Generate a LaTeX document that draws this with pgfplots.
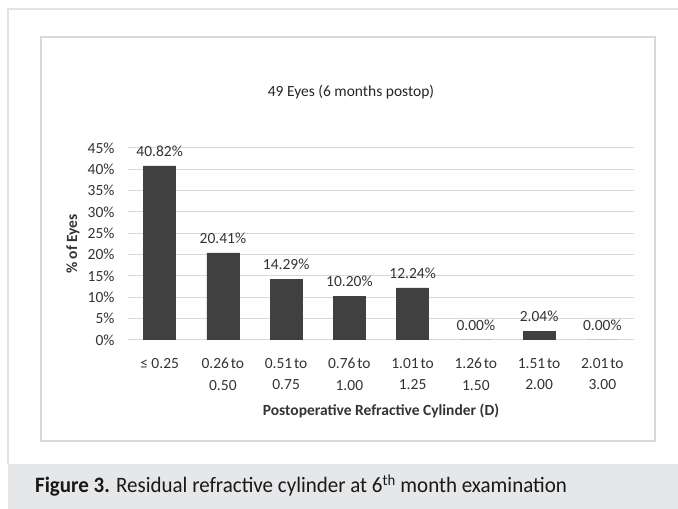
\documentclass[border=0pt]{standalone}
\usepackage{fontspec}
\setmainfont{Carlito}
\usepackage{pgfplots}
\pgfplotsset{compat=1.18}
\definecolor{barc}{HTML}{404040}
\definecolor{gridc}{HTML}{D9D9D9}
\definecolor{txt}{HTML}{333333}
\definecolor{band}{HTML}{E6E7E9}
\definecolor{framec}{HTML}{E3E3E3}
\newcommand{\ts}{\hspace{0.12em}}
\begin{document}
\begin{tikzpicture}[x=1pt,y=1pt]
\path[use as bounding box] (0,0) rectangle (678,509);
\fill[band] (8,0) rectangle (678,45);
\draw[framec, line width=2pt] (8,45) -- (8,500) -- (678,500);
\draw[gridc, line width=1.5pt] (41,68) rectangle (655,472);
\begin{axis}[at={(128pt,169pt)}, anchor=south west,
  width=506pt, height=192pt, scale only axis,
  xmin=-0.5, xmax=7.5, ymin=0, ymax=45,
  ybar, bar width=32pt,
  axis x line*=bottom, axis y line*=left,
  x axis line style={gridc, line width=1pt, -},
  y axis line style={draw=none},
  major tick length=0pt,
  ytick={0,5,...,45},
  yticklabel={\pgfmathprintnumber{\tick}\%},
  /pgf/number format/assume math mode=true,
  ymajorgrids, grid style={gridc, line width=1pt},
  xtick={0,...,7},
  xticklabels={{≤ 0.25},{0.26\ts to\\0.50},{0.51\ts to\\0.75},{0.76\ts to\\1.00},{1.01\ts to\\1.25},{1.26\ts to\\1.50},{1.51\ts to\\2.00},{2.01\ts to\\3.00}},
  xticklabel style={align=center, font=\fontsize{15.5}{21}\selectfont, text=txt, yshift=-15pt},
  yticklabel style={font=\fontsize{15.5}{18}\selectfont, text=txt, xshift=-10pt},
  nodes near coords={\pgfmathprintnumber[fixed, fixed zerofill, precision=2]{\pgfplotspointmeta}\%},
  nodes near coords style={font=\fontsize{15.5}{18}\selectfont, text=txt, yshift=6pt},
  xlabel={\textbf{Postoperative Refractive Cylinder (D)}},
  xlabel style={at={(axis description cs:0.5,-0.37)}, anchor=center, font=\fontsize{15.5}{18}\selectfont, text=txt},
  ylabel={\textbf{\% of Eyes}},
  ylabel style={at={(axis description cs:-0.1087,0.5)}, anchor=center, rotate=0, font=\fontsize{15.5}{18}\selectfont, text=txt},
  title={49 Eyes (6 months postop)},
  title style={at={(axis description cs:0.4407,1.26)}, anchor=center, font=\fontsize{15.5}{18}\selectfont, text=black!85},
]
\addplot[fill=barc, draw=barc] coordinates {(0,40.82) (1,20.41) (2,14.29) (3,10.20) (4,12.24) (5,0) (6,2.04) (7,0)};
\end{axis}
\node[anchor=base west, text=black!90, font=\fontsize{22}{26}\selectfont, inner sep=0pt] at (35,16) {\scalebox{0.953}[1]{\textbf{Figure 3.} Residual refractive cylinder at 6\textsuperscript{th} month examination}};
\end{tikzpicture}
\end{document}
